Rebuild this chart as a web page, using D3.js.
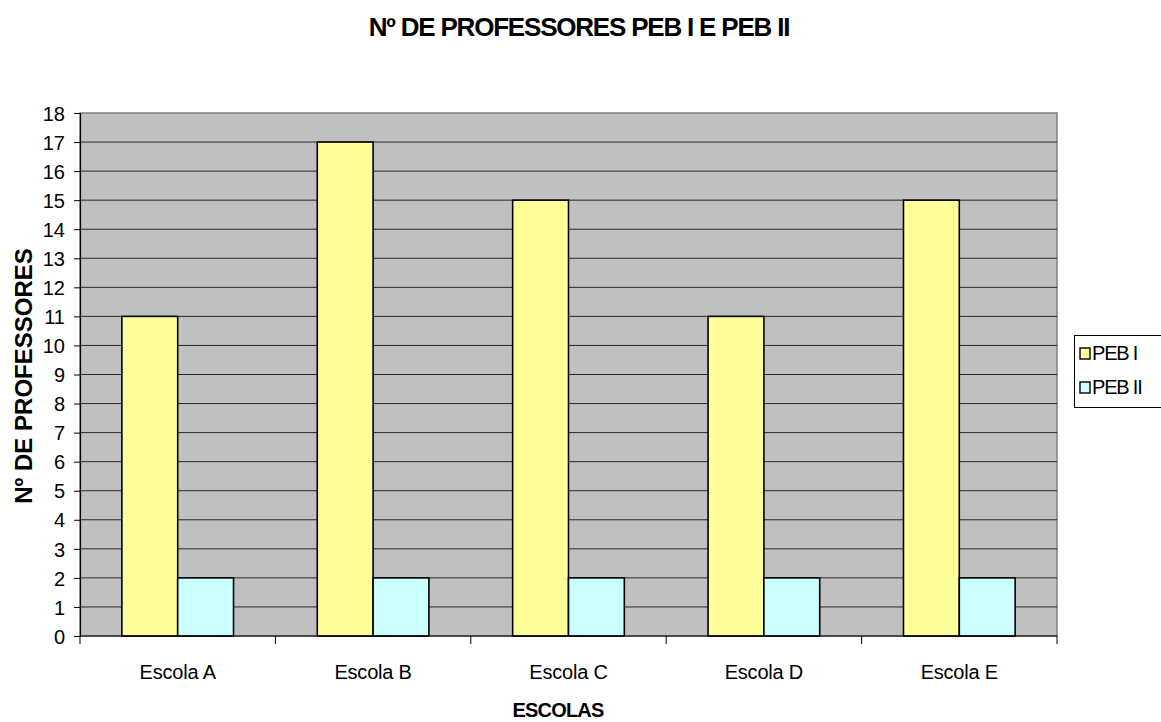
<!DOCTYPE html>
<html>
<head>
<meta charset="utf-8">
<script src="https://cdn.jsdelivr.net/npm/d3@7"></script>
<style>
  html, body { margin: 0; padding: 0; background: #fff; }
  svg { display: block; font-family: "Liberation Sans", Arial, sans-serif; }
</style>
</head>
<body>
<svg id="chart" width="1161" height="722"></svg>
<script>
// Number of teachers per school, split by PEB I and PEB II
const categories = ["Escola A", "Escola B", "Escola C", "Escola D", "Escola E"];
const seriesNames = ["PEB I", "PEB II"];
const pebI = [11, 17, 15, 11, 15];
const pebII = [2, 2, 2, 2, 2];
const yTicks = d3.range(0, 19);
const colors = ["#ffff99", "#ccffff"];

const svg = d3.select("#chart");
const plot = { left: 80, right: 1057, top: 113, bottom: 636 };

const x = d3.scaleBand().domain(categories).range([plot.left, plot.right]).paddingInner(0).paddingOuter(0);
const y = d3.scaleLinear().domain([0, 18]).range([plot.bottom, plot.top]);
// each bar takes 1/3.5 of its category (150% gap between groups)
const barW = x.bandwidth() / 3.5;
const sub = d3.scaleBand().domain(seriesNames).range([0, barW * 2]);

// plot background
svg.append("rect")
  .attr("x", plot.left).attr("y", plot.top)
  .attr("width", plot.right - plot.left).attr("height", plot.bottom - plot.top)
  .attr("fill", "#c0c0c0").attr("stroke", "#808080").attr("stroke-width", 1.5);

// horizontal gridlines
svg.append("g").selectAll("line").data(yTicks.filter(d => d > 0 && d < 18)).join("line")
  .attr("x1", plot.left).attr("x2", plot.right)
  .attr("y1", d => y(d)).attr("y2", d => y(d))
  .attr("stroke", "#000").attr("stroke-opacity", 0.8).attr("stroke-width", 1);

// bars
const data = categories.map((c, i) => ({ cat: c, values: [pebI[i], pebII[i]] }));
const groups = svg.append("g").selectAll("g").data(data).join("g")
  .attr("transform", d => `translate(${x(d.cat) + (x.bandwidth() - barW * 2) / 2},0)`);
groups.selectAll("rect").data(d => d.values.map((v, j) => ({ v, s: seriesNames[j], j }))).join("rect")
  .attr("x", d => sub(d.s))
  .attr("y", d => y(d.v))
  .attr("width", sub.bandwidth())
  .attr("height", d => y(0) - y(d.v))
  .attr("fill", d => colors[d.j])
  .attr("stroke", "#000").attr("stroke-width", 1.6);

// y axis
const yAxis = d3.axisLeft(y).tickValues(yTicks).tickSize(6).tickPadding(9).tickFormat(d3.format("d"));
const gy = svg.append("g").attr("transform", `translate(${plot.left},0)`).call(yAxis);
gy.select(".domain").attr("stroke", "#000").attr("stroke-width", 1.2);
gy.selectAll(".tick line").attr("stroke", "#000");
gy.selectAll(".tick text")
  .attr("font-family", "Liberation Sans, Arial, sans-serif")
  .attr("font-size", 20).attr("fill", "#000").attr("dy", "0.36em");

// x axis: ticks at category boundaries, labels centred
const gx = svg.append("g").attr("transform", `translate(0,${plot.bottom})`);
gx.append("line").attr("x1", plot.left).attr("x2", plot.right).attr("stroke", "#000").attr("stroke-width", 1.2);
const bounds = categories.map(c => x(c)).concat([plot.right]);
gx.selectAll("line.tk").data(bounds).join("line").attr("class", "tk")
  .attr("x1", d => d).attr("x2", d => d).attr("y1", 0).attr("y2", 8)
  .attr("stroke", "#000");
gx.selectAll("text").data(categories).join("text")
  .attr("x", d => x(d) + x.bandwidth() / 2).attr("y", 43)
  .attr("text-anchor", "middle").attr("font-size", 20).attr("letter-spacing", -0.2)
  .text(d => d);

// titles
svg.append("text").attr("x", 579).attr("y", 36).attr("text-anchor", "middle")
  .attr("font-size", 26).attr("font-weight", "bold").attr("letter-spacing", -1.2)
  .text("Nº DE PROFESSORES PEB I E PEB II");
svg.append("text").attr("x", 558).attr("y", 717).attr("text-anchor", "middle")
  .attr("font-size", 20).attr("font-weight", "bold").attr("letter-spacing", -0.8)
  .text("ESCOLAS");
svg.append("text").attr("transform", "translate(32,376) rotate(-90)").attr("text-anchor", "middle")
  .attr("font-size", 24).attr("font-weight", "bold")
  .text("Nº DE PROFESSORES");

// legend
const lg = svg.append("g");
lg.append("rect").attr("x", 1074.5).attr("y", 335.5).attr("width", 90).attr("height", 72)
  .attr("fill", "#fff").attr("stroke", "#000").attr("stroke-width", 1);
const items = lg.selectAll("g.item").data(seriesNames).join("g").attr("class", "item")
  .attr("transform", (d, i) => `translate(1080,${348 + i * 34})`);
items.append("rect").attr("width", 10).attr("height", 11)
  .attr("fill", (d, i) => colors[i]).attr("stroke", "#000").attr("stroke-width", 1.4);
items.append("text").attr("x", 12).attr("y", 12).attr("font-size", 20).attr("letter-spacing", -1.2)
  .text(d => d);
</script>
</body>
</html>
